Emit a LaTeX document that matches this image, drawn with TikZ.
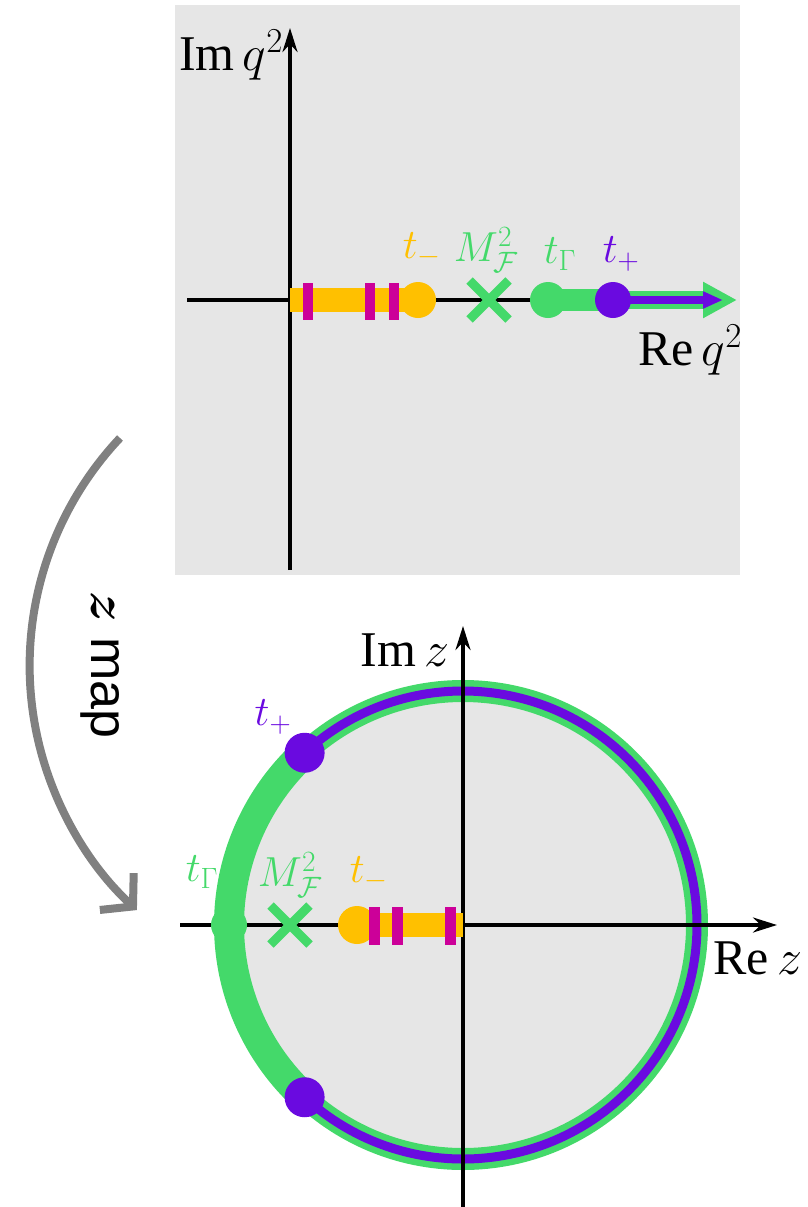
\RequirePackage{fix-cm}
\documentclass[tikz,border=0pt]{standalone}
\usepackage{amsmath}
\usepackage{fontspec}
\setmainfont{Liberation Serif}
\newfontfamily\mapfont{Liberation Sans}
\usetikzlibrary{arrows.meta,shapes.misc,calc}
\definecolor{bgg}{RGB}{230,230,230}
\definecolor{ygold}{RGB}{255,192,0}
\definecolor{mgnt}{RGB}{204,0,153}
\definecolor{grn}{RGB}{68,217,106}
\definecolor{prp}{RGB}{106,10,224}
\definecolor{arrg}{RGB}{128,128,128}
\tikzset{
  axisline/.style={line width=3.5pt},
  axisarrow/.style={line width=3.5pt,-{Stealth[length=24pt,width=15pt]}},
  biglab/.style={font=\fontsize{50}{60}\selectfont, inner sep=0pt},
  ptlab/.style={font=\fontsize{42}{50}\selectfont, inner sep=0pt},
  magbar/.style={fill=mgnt, minimum width=10pt, minimum height=37pt, inner sep=0pt},
  dot/.style={circle, inner sep=0pt, minimum size=36pt},
  crossmark/.style={cross out, draw=grn, line width=9pt, minimum size=30pt, inner sep=0pt},
}
\begin{document}
\begin{tikzpicture}[x=1pt,y=-1pt]
\useasboundingbox (0,0) rectangle (808,1207);
% ---------- top panel ----------
\fill[bgg] (175,5) rectangle (740,575);
\coordinate (qo) at (290,300);
\coordinate (qbot) at (290,570);
\coordinate (qtop) at (290,28);
\coordinate (qleft) at (187,300);
\coordinate (qtm) at (418,300);
\coordinate (qtg) at (548,300);
\coordinate (qtp) at (613,300);
\coordinate (gtip) at (737,300);
\coordinate (ptip) at (723,300);
\draw[axisarrow] (qbot) -- (qtop);
\draw[axisline] (qleft) -- (qtg);
\draw[ygold, line width=24pt] (qo) -- (qtm);
\node[dot, fill=ygold] (tm) at (qtm) {};
\node[magbar] (b1) at (308,301) {};
\node[magbar] (b2) at (370,301) {};
\node[magbar] (b3) at (394,301) {};
\node[crossmark] (mf) at (489,300) {};
\draw[grn, line width=22pt] (qtg) -- (qtp);
\node[dot, fill=grn] (tg) at (qtg) {};
\draw[grn, line width=18pt, -{Triangle[length=34pt,width=34pt]}] (qtp) -- (gtip);
\draw[prp, line width=8pt, -{Triangle[length=20pt,width=16pt]}] (qtp) -- (ptip);
\node[dot, fill=prp] (tp) at (qtp) {};
\node[biglab] (imq) at (231,55) {$\mathrm{Im}\,q^2$};
\node[biglab] (req) at (690,350) {$\mathrm{Re}\,q^2$};
\node[ptlab, text=ygold] (ltm) at (422,250) {$t_{-}$};
\node[ptlab, text=grn] (lmf) at (486,250) {$M_{\mathcal{F}}^2$};
\node[ptlab, text=grn] (ltg) at (560,254) {$t_{\Gamma}$};
\node[ptlab, text=prp] (ltp) at (621,254) {$t_{+}$};
% ---------- bottom panel ----------
\coordinate (zo) at (463,925);
\fill[bgg] (zo) circle[radius=234];
\coordinate (zbot) at (463,1207);
\coordinate (ztop) at (463,626);
\coordinate (zleft) at (180,925);
\coordinate (zright) at (777,925);
\draw[grn, line width=22pt] (zo) circle[radius=234];
\draw[prp, line width=9pt] (zo) circle[radius=234];
\draw[axisarrow] (zbot) -- (ztop);
\draw[axisarrow] (zleft) -- (zright);
\coordinate (zup) at ($(zo)+(227.4:234)$);
\coordinate (zdn) at ($(zo)+(132.6:234)$);
\draw[grn, line width=30pt] (zdn) arc[start angle=132.6, end angle=227.4, radius=234];
\node[dot, fill=prp, minimum size=40pt] (zp1) at (zup) {};
\node[dot, fill=prp, minimum size=40pt] (zp2) at (zdn) {};
\coordinate (ztm) at (357,925);
\coordinate (zend) at (463,925);
\node[dot, fill=grn, minimum size=36pt] (ztg) at (229,925) {};
\node[crossmark] (zmf) at (290,925) {};
\draw[ygold, line width=24pt] (ztm) -- (zend);
\node[dot, fill=ygold, minimum size=38pt] (ztmd) at (ztm) {};
\node[magbar, minimum width=11pt, minimum height=38pt] (zb1) at (374,926) {};
\node[magbar, minimum width=11pt, minimum height=38pt] (zb2) at (397,926) {};
\node[magbar, minimum width=11pt, minimum height=38pt] (zb3) at (450,926) {};
\node[biglab] (imz) at (405,650) {$\mathrm{Im}\,z$};
\node[biglab] (rez) at (758,958) {$\mathrm{Re}\,z$};
\node[ptlab, text=grn] (lztg) at (202,872) {$t_{\Gamma}$};
\node[ptlab, text=grn] (lzmf) at (290,875) {$M_{\mathcal{F}}^2$};
\node[ptlab, text=ygold] (lztm) at (369,874) {$t_{-}$};
\node[ptlab, text=prp] (lztp) at (273,717) {$t_{+}$};
% ---------- map arrow ----------
\coordinate (mapstart) at (120,438);
\draw[arrg, line width=8pt, -{Straight Barb[length=22pt,width=50pt]}] (mapstart) arc[start angle=223.3, end angle=132.6, radius=332];
\node[rotate=-90, font=\mapfont\fontsize{52}{60}\selectfont, inner sep=0pt] (zmap) at (100,665) {$\boldsymbol{z}$ map};
\end{tikzpicture}
\end{document}
